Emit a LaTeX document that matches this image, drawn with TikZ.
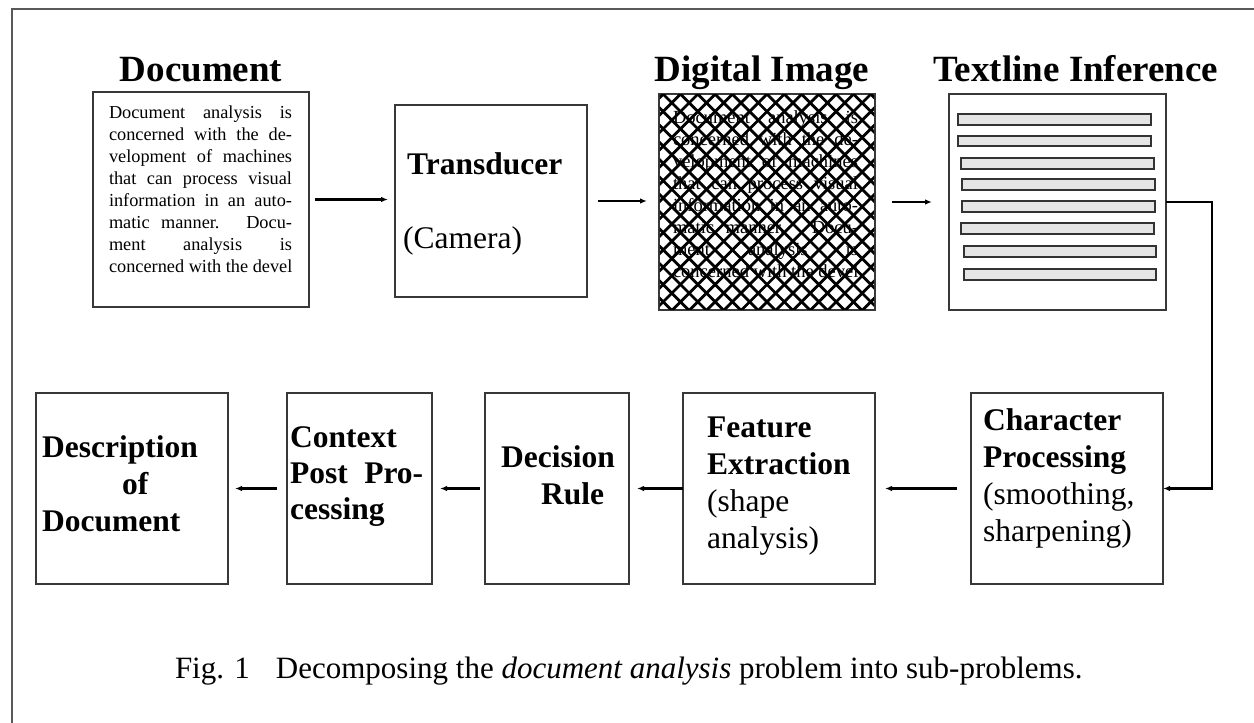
\documentclass[tikz,border=0pt]{standalone}
\usepackage{fontspec}
\setmainfont{Liberation Serif}
\usetikzlibrary{arrows.meta,calc}
\newcommand\docparalines{%
\makebox[\linewidth][s]{Document analysis is}\\
\makebox[\linewidth][s]{concerned with the de-}\\
\makebox[\linewidth][s]{velopment of machines}\\
\makebox[\linewidth][s]{that can process visual}\\
\makebox[\linewidth][s]{information in an auto-}\\
\makebox[\linewidth][s]{matic manner. Docu-}\\
\makebox[\linewidth][s]{ment analysis is}\\
\makebox[\linewidth][l]{concerned with the devel}}
\begin{document}
\begin{tikzpicture}[x=1pt,y=-1pt,
  boxnode/.style={draw=black!78, line width=1.8pt, inner sep=0pt, outer sep=0pt},
  txt/.style={inner sep=0pt, outer sep=0pt, anchor=base west},
  ttl/.style={inner sep=0pt, anchor=base, font=\fontsize{37}{40}\selectfont\bfseries},
  boxtxt/.style={inner sep=0pt, anchor=base west, font=\fontsize{31.5}{37}\selectfont},
  arr/.style={line width=2.1pt, -{Latex[length=7pt,width=5.5pt]}},
  conn/.style={line width=2.4pt, -{Latex[length=7pt,width=5.5pt]}},
  bar/.style={draw=black!80, fill=black!10, line width=1.2pt},
  hatch/.style={line width=2.8pt, black},
  frame/.style={draw=black!65, line width=2pt}]
\useasboundingbox (0,0) rectangle (1254,723);
\draw[frame] (11.5,723) -- (11.5,9) -- (1254,9);

% titles
\node[ttl] (t1) at (201,81) {Document};
\node[ttl] (t2) at (762,81) {Digital Image};
\node[ttl] (t3) at (1076,81) {Textline Inference};

% top row boxes
\node[boxnode, minimum width=216pt, minimum height=215pt] (doc) at (201,199.5) {};
\node[boxnode, minimum width=192pt, minimum height=192pt] (trans) at (491,201) {};
\node[boxnode, minimum width=216pt, minimum height=216pt] (dig) at (767,202) {};
\node[boxnode, minimum width=217pt, minimum height=216pt] (tl) at (1057.5,202) {};

% document text
\node[txt] (doctext) at (109,118) {\parbox[t]{183pt}{\fontsize{18.3}{22}\selectfont\docparalines}};
% transducer text
\node[boxtxt, font=\fontsize{31.5}{37}\selectfont\bfseries] (trt1) at (407,174) {Transducer};
\node[boxtxt] (trt2) at (403,248) {(Camera)};

% digital image text + hatch
\node[txt] (digtext) at (673,123) {\parbox[t]{185pt}{\fontsize{18.5}{22.1}\selectfont\docparalines}};
\begin{scope}
\clip ($(dig.north west)+(0.9,0.9)$) rectangle ($(dig.south east)+(-0.9,-0.9)$);
\foreach \k in {-13,...,13} {
  \draw[hatch] ($(dig.north west)+(\k*17.3+4,0)$) -- ++(216,216);
  \draw[hatch] ($(dig.north east)+(\k*17.3-4,0)$) -- ++(-216,216);
}
\end{scope}

% textline bars
\foreach \a/\b/\c/\d in {958/114/1151/125, 958/136/1151/146, 961/158/1154/169, 962/179/1155/190,
  962/201/1155/212, 961/223/1154/234, 964/246/1156/257, 964/269/1156/280}
  \draw[bar] (\a,\b) rectangle (\c,\d);

% bottom row boxes
\node[boxnode, minimum width=192pt, minimum height=191pt] (desc) at (132,488.5) {};
\node[boxnode, minimum width=145pt, minimum height=191pt] (ctx) at (359.5,488.5) {};
\node[boxnode, minimum width=144pt, minimum height=191pt] (dec) at (557,488.5) {};
\node[boxnode, minimum width=192pt, minimum height=191pt] (feat) at (779,488.5) {};
\node[boxnode, minimum width=192pt, minimum height=191pt] (chr) at (1067,488.5) {};

% bottom row texts
\node[boxtxt] (desct) at (42,457) {\parbox[t]{180pt}{\bfseries Description\\\hspace*{80pt}of\\Document}};
\node[boxtxt] (ctxt) at (290,447) {\parbox[t]{133pt}{\fontsize{31.5}{36}\selectfont\bfseries Context\\\makebox[133pt][s]{Post Pro-}\\cessing}};
\node[boxtxt] (dect) at (501,467) {\parbox[t]{125pt}{\bfseries Decision\\\hspace*{40pt}Rule}};
\node[boxtxt] (featt) at (707,437) {\parbox[t]{165pt}{\textbf{Feature}\\\textbf{Extraction}\\(shape\\analysis)}};
\node[boxtxt] (chrt) at (983,430) {\parbox[t]{175pt}{\textbf{Character}\\\textbf{Processing}\\(smoothing,\\sharpening)}};

% connectors
\draw[arr, shorten <=6pt, shorten >=7pt] (doc.east) -- (doc.east -| trans.west);
\draw[arr, shorten <=11pt, shorten >=12pt] (trans.east) -- (trans.east -| dig.west);
\draw[arr, shorten <=17pt, shorten >=17pt] (dig.east) -- (tl.west);
\draw[conn] (tl.east) -- ++(46,0) |- (chr.east);
\draw[arr, shorten <=14pt, shorten >=10pt] (chr.west) -- (feat.east);
\draw[arr, shorten >=8pt] (feat.west) -- (dec.east);
\draw[arr, shorten <=5pt, shorten >=8pt] (dec.west) -- (ctx.east);
\draw[arr, shorten <=10pt, shorten >=7pt] (ctx.west) -- (desc.east);

% caption
\node[txt, font=\fontsize{31}{36}\selectfont] (cap) at (175,678) {Fig. 1\hspace{26pt}Decomposing the \textit{document analysis} problem into sub-problems.};
\end{tikzpicture}
\end{document}
